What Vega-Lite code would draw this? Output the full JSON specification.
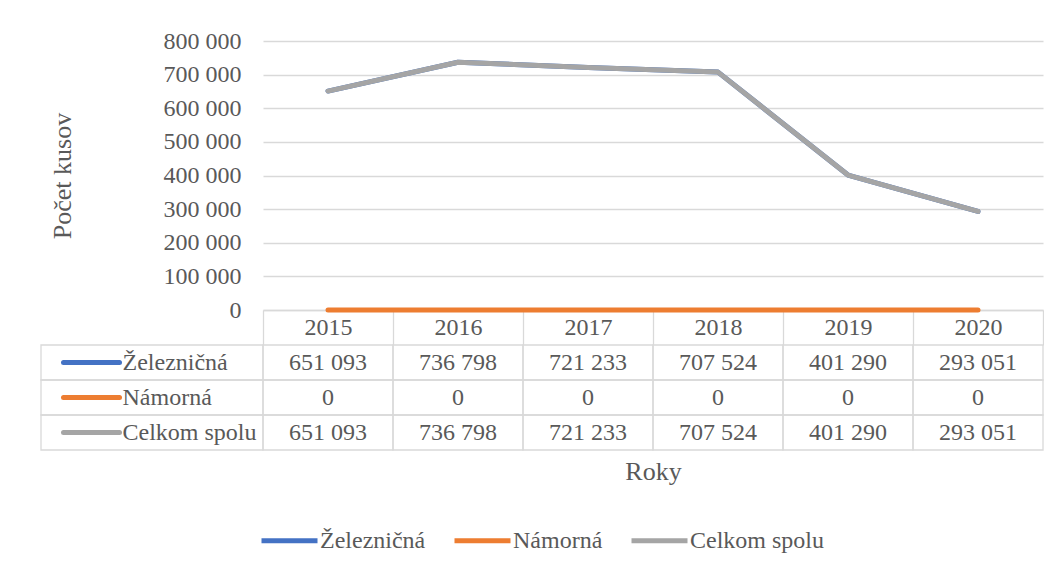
{
  "$schema": "https://vega.github.io/schema/vega-lite/v6.json",
  "padding": {"left": 40, "top": 29, "right": 0, "bottom": 0},
  "background": "white",
  "config": {
    "font": "Liberation Serif",
    "view": {"stroke": null},
    "locale": {"number": {"decimal": ",", "thousands": " ", "grouping": [3], "currency": ["", " €"]}},
    "axis": {
      "labelFont": "Liberation Serif", "titleFont": "Liberation Serif",
      "labelFontSize": 24, "labelColor": "#595959",
      "titleFontSize": 26, "titleColor": "#595959", "titleFontWeight": "normal",
      "domain": false, "ticks": false, "grid": false
    },
    "legend": {
      "labelFont": "Liberation Serif", "labelFontSize": 24, "labelColor": "#595959",
      "padding": 0, "labelLimit": 400
    }
  },
  "datasets": {
    "main": [
      {"year": "2015", "series": "Železničná", "value": 651093},
      {"year": "2016", "series": "Železničná", "value": 736798},
      {"year": "2017", "series": "Železničná", "value": 721233},
      {"year": "2018", "series": "Železničná", "value": 707524},
      {"year": "2019", "series": "Železničná", "value": 401290},
      {"year": "2020", "series": "Železničná", "value": 293051},
      {"year": "2015", "series": "Námorná", "value": 0},
      {"year": "2016", "series": "Námorná", "value": 0},
      {"year": "2017", "series": "Námorná", "value": 0},
      {"year": "2018", "series": "Námorná", "value": 0},
      {"year": "2019", "series": "Námorná", "value": 0},
      {"year": "2020", "series": "Námorná", "value": 0},
      {"year": "2015", "series": "Celkom spolu", "value": 651093},
      {"year": "2016", "series": "Celkom spolu", "value": 736798},
      {"year": "2017", "series": "Celkom spolu", "value": 721233},
      {"year": "2018", "series": "Celkom spolu", "value": 707524},
      {"year": "2019", "series": "Celkom spolu", "value": 401290},
      {"year": "2020", "series": "Celkom spolu", "value": 293051}
    ]
  },
  "columns": 2,
  "spacing": {"row": 35, "column": 0},
  "bounds": "flush",
  "concat": [
    {
      "width": 222, "height": 269,
      "data": {"values": [{"v": 0}]},
      "mark": {"type": "point", "opacity": 0},
      "encoding": {}
    },
    {
      "width": 780, "height": 269,
      "data": {"name": "main"},
      "mark": {"type": "line", "strokeWidth": 5, "strokeCap": "round", "strokeJoin": "round"},
      "encoding": {
        "x": {
          "field": "year", "type": "ordinal",
          "scale": {"type": "band", "paddingInner": 0, "paddingOuter": 0},
          "axis": {
            "orient": "bottom", "title": null,
            "domain": true, "domainColor": "#d9d9d9", "domainWidth": 1.3,
            "ticks": true, "tickBand": "extent", "tickSize": 35, "tickColor": "#d9d9d9", "tickWidth": 1.3,
            "labelAngle": 0, "labelBaseline": "middle", "labelPadding": -17.5,
            "labelOverlap": false
          }
        },
        "y": {
          "field": "value", "type": "quantitative",
          "scale": {"domain": [0, 800000], "nice": false},
          "axis": {
            "values": [0, 100000, 200000, 300000, 400000, 500000, 600000, 700000, 800000],
            "grid": true, "gridColor": "#d9d9d9", "gridWidth": 1.3,
            "format": ",.0f", "labelPadding": 22,
            "title": "Počet kusov", "titlePadding": 88
          }
        },
        "color": {
          "field": "series", "type": "nominal",
          "scale": {"domain": ["Železničná", "Námorná", "Celkom spolu"], "range": ["#4472C4", "#ED7D31", "#A5A5A5"]},
          "legend": {
            "orient": "none", "legendX": 218, "legendY": 469,
            "direction": "horizontal", "title": null,
            "symbolType": "stroke", "symbolSize": 3136, "symbolStrokeWidth": 5,
            "labelOffset": 0, "columnPadding": 18
          }
        }
      }
    },
    {
      "width": 222, "height": 105,
      "data": {"name": "main"},
      "transform": [{"filter": "datum.year === '2015'"}],
      "mark": {"type": "rect", "filled": false, "stroke": "#d9d9d9", "strokeWidth": 1.3},
      "encoding": {
        "y": {
          "field": "series", "type": "nominal",
          "scale": {"domain": ["Železničná", "Námorná", "Celkom spolu"], "paddingInner": 0, "paddingOuter": 0},
          "axis": {
            "orient": "left", "offset": -78, "title": null,
            "ticks": true, "tickSize": 56, "tickWidth": 5, "tickCap": "round",
            "tickColor": {"condition": [{"test": "datum.value === 'Železničná'", "value": "#4472C4"}, {"test": "datum.value === 'Námorná'", "value": "#ED7D31"}], "value": "#A5A5A5"},
            "labelAlign": "left", "labelPadding": -59, "labelBaseline": "middle",
            "labelLimit": 0, "domain": false
          }
        }
      }
    },
    {
      "width": 780, "height": 105,
      "data": {"name": "main"},
      "encoding": {
        "x": {
          "field": "year", "type": "ordinal",
          "scale": {"type": "band", "paddingInner": 0, "paddingOuter": 0},
          "axis": {"orient": "bottom", "labels": false, "ticks": false, "domain": false, "title": "Roky", "titlePadding": 8}
        },
        "y": {
          "field": "series", "type": "nominal",
          "scale": {"domain": ["Železničná", "Námorná", "Celkom spolu"], "paddingInner": 0, "paddingOuter": 0},
          "axis": null
        }
      },
      "layer": [
        {"mark": {"type": "rect", "filled": false, "stroke": "#d9d9d9", "strokeWidth": 1.3}},
        {
          "mark": {"type": "text", "fontSize": 24, "color": "#595959"},
          "encoding": {"text": {"field": "value", "type": "quantitative", "format": ",.0f"}}
        }
      ]
    }
  ]
}
